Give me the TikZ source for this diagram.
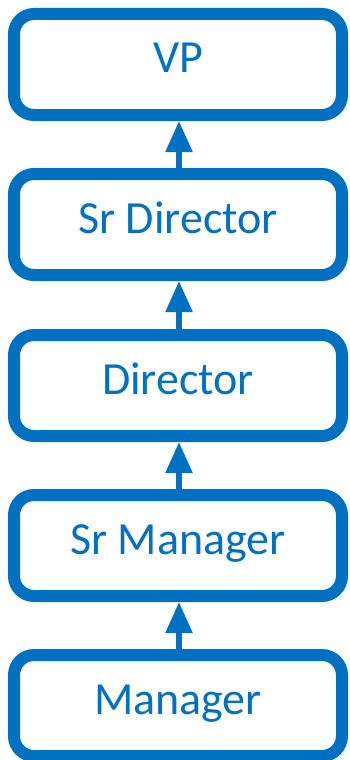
\documentclass[tikz,border=0pt]{standalone}
\usepackage{fontspec}
\setmainfont{Carlito}
\usetikzlibrary{arrows.meta}
\definecolor{boxblue}{RGB}{0,112,192}
\begin{document}
\begin{tikzpicture}[x=1pt,y=1pt,
  rolebox/.style={draw=boxblue, line width=12pt, rounded corners=20pt, fill=white,
    minimum width=328pt, minimum height=101pt, text=boxblue,
    font=\fontsize{46}{52}\selectfont, text height=30pt, text depth=13pt, inner sep=0pt},
  uparrow/.style={draw=boxblue, line width=5.5pt,
    -{Triangle[length=31pt,width=26pt]}}]
\useasboundingbox (0,0) rectangle (349,-760);
\node[rolebox] (vp)    at (178,-64.5)  {VP};
\node[rolebox] (srdir) at (178,-224.5) {Sr Director};
\node[rolebox] (dir)   at (178,-385.5) {Director};
\node[rolebox] (srmgr) at (178,-545.5) {Sr Manager};
\node[rolebox] (mgr)   at (178,-705.5) {Manager};
\draw[uparrow] ([xshift=1pt]srdir.north) -- ([xshift=1pt]vp.south);
\draw[uparrow] ([xshift=1pt]dir.north) -- ([xshift=1pt]srdir.south);
\draw[uparrow] ([xshift=1pt]srmgr.north) -- ([xshift=1pt]dir.south);
\draw[uparrow] ([xshift=1pt]mgr.north) -- ([xshift=1pt]srmgr.south);
\end{tikzpicture}
\end{document}
